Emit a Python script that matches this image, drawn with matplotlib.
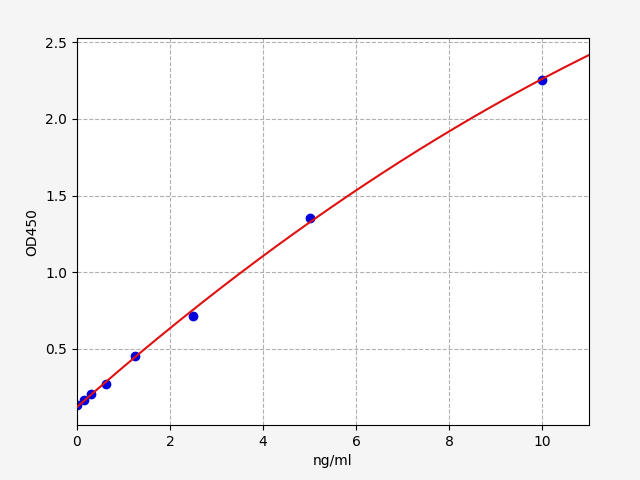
import numpy as np
import matplotlib
matplotlib.use("Agg")
import matplotlib.pyplot as plt

conc = [0, 0.156, 0.3125, 0.625, 1.25, 2.5, 5, 10]
od = [0.134, 0.167, 0.206, 0.271, 0.454, 0.715, 1.355, 2.256]

coef = np.polyfit(conc, od, 2)
xs = np.linspace(0, 11, 200)
ys = np.polyval(coef, xs)

fig, ax = plt.subplots(figsize=(6.4, 4.8), dpi=100)
fig.subplots_adjust(left=0.12, right=0.92, bottom=0.115, top=0.92)
fig.patch.set_facecolor('#f5f5f5')
ax.plot(xs, ys, color='#e01010', lw=1.5, zorder=3)
ax.scatter(conc, od, color='#0000dd', s=36, zorder=2)
ax.set_xlim(0, 11)
ax.set_ylim(0.005, 2.525)
ax.grid(True, linestyle='--', color='#b0b0b0')
ax.set_xlabel('ng/ml')
ax.set_ylabel('OD450')
fig.savefig('out.png', dpi=100, facecolor=fig.get_facecolor())
